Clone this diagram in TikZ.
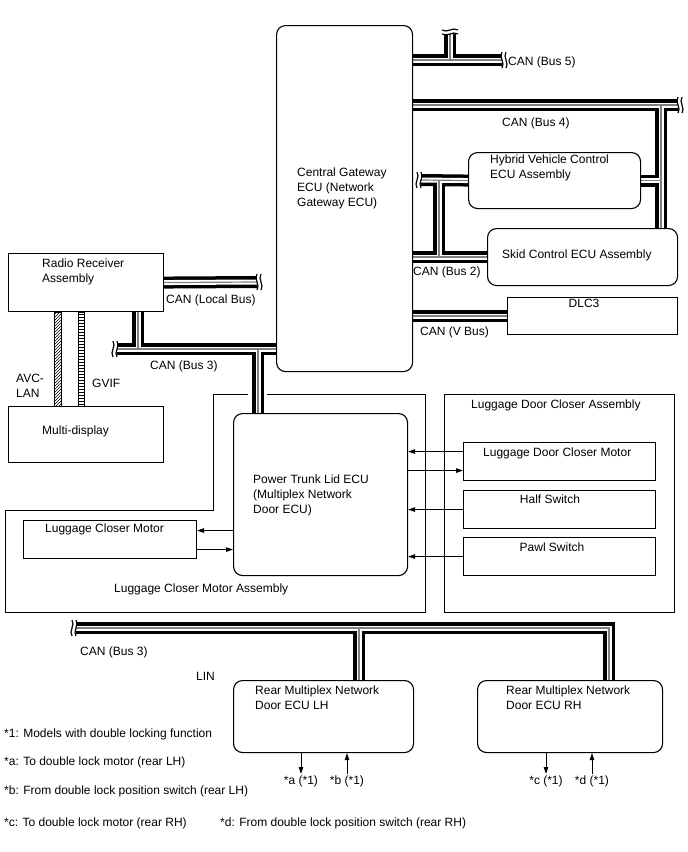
\documentclass[tikz,border=0pt]{standalone}
\usepackage{fontspec}
\setmainfont{Liberation Sans}
\usepackage{tikz}
\usetikzlibrary{calc,arrows.meta,backgrounds,patterns}
\tikzset{
  box/.style={draw,line width=1.1pt,anchor=north west,inner sep=0pt},
  rbox/.style={box,rounded corners=9pt},
  lbl/.style={anchor=north west,inner sep=0pt,align=left,font=\fontsize{12}{15}\selectfont},
  clbl/.style={lbl,anchor=north,outer sep=2pt},
  ar/.style={-{Triangle[length=7pt,width=4.5pt]},line width=0.9pt},
  busA/.style={line width=12pt,black},
  busB/.style={line width=5pt,white},
  busC/.style={line width=1.2pt,black!50},
  brk/.pic={
    \draw[line width=1.2pt] (0,-8) .. controls (-3.5,-3) and (3.5,3) .. (0,8);
    \draw[line width=1.2pt] (4,-8) .. controls (0.5,-3) and (7.5,3) .. (4,8);
  }
}

\begin{document}
\begin{tikzpicture}[x=1pt,y=-1pt]
\useasboundingbox (0,0) rectangle (688,852);
% boxes
\node[rbox,minimum width=136pt,minimum height=346pt] (gw) at (276,25) {};
\node[rbox,minimum width=172pt,minimum height=56pt] (hv) at (468,152) {};
\node[rbox,minimum width=190pt,minimum height=57pt] (sk) at (487,228) {};
\node[box,minimum width=170pt,minimum height=37pt] (dlc) at (507,297) {};
\node[box,minimum width=155pt,minimum height=58pt] (rr) at (8,253) {};
\node[box,minimum width=155pt,minimum height=56pt] (md) at (8,406) {};
\node[rbox,minimum width=174pt,minimum height=162pt] (ptl) at (233,413) {};
\node[box,minimum width=173pt,minimum height=38pt] (lcm) at (23,520) {};
\node[box,minimum width=230pt,minimum height=218pt] (ldca) at (444,394) {};
\node[box,minimum width=192pt,minimum height=38pt] (ldcm) at (463,442) {};
\node[box,minimum width=192pt,minimum height=38pt] (half) at (463,490) {};
\node[box,minimum width=192pt,minimum height=38pt] (pawl) at (463,537) {};
\node[rbox,minimum width=180pt,minimum height=72pt] (lh) at (233,680) {};
\node[rbox,minimum width=185pt,minimum height=72pt] (rh) at (477,680) {};
\draw[line width=1.1pt] (248,394.5) -- (213.5,394.5) -- (213.5,510.5) -- (5.5,510.5) -- (5.5,612.5) -- (425.5,612.5) -- (425.5,394.5) -- (267,394.5);

% texts
\node[lbl] (gwt) at (297,167.5) {Central Gateway\\ECU (Network\\Gateway ECU)};
\node[lbl] (hvt) at (490,154.5) {Hybrid Vehicle Control\\ECU Assembly};
\node[lbl] (skt) at (502,249.5) {Skid Control ECU Assembly};
\node[lbl,anchor=north] (dlct) at (584,298.5) {DLC3};
\node[lbl] (rrt) at (42,258.5) {Radio Receiver\\Assembly};
\node[lbl] (mdt) at (42,425.5) {Multi-display};
\node[lbl] (ptlt) at (253,474.5) {Power Trunk Lid ECU\\(Multiplex Network\\Door ECU)};
\node[lbl] (lcmt) at (45,523.5) {Luggage Closer Motor};
\node[lbl] (lcmat) at (114,583.5) {Luggage Closer Motor Assembly};
\node[lbl] (ldcat) at (471,399.5) {Luggage Door Closer Assembly};
\node[lbl] (ldcmt) at (483,447.5) {Luggage Door Closer Motor};
\node[lbl,anchor=north] (halft) at (550,494.5) {Half Switch};
\node[lbl,anchor=north] (pawlt) at (552,542.5) {Pawl Switch};
\node[lbl] (lht) at (255,685.5) {Rear Multiplex Network\\Door ECU LH};
\node[lbl] (rht) at (506,685.5) {Rear Multiplex Network\\Door ECU RH};
\node[lbl] (b5l) at (508,56.5) {CAN (Bus 5)};
\node[lbl] (b4l) at (502,117.5) {CAN (Bus 4)};
\node[lbl] (b2l) at (413,266.5) {CAN (Bus 2)};
\node[lbl] (vbl) at (420,326.5) {CAN (V Bus)};
\node[lbl] (lbl) at (166,294.5) {CAN (Local Bus)};
\node[lbl] (b3l) at (150,360.5) {CAN (Bus 3)};
\node[lbl] (b6l) at (80,646.5) {CAN (Bus 3)};
\node[lbl] (linl) at (196,672.5) {LIN};
\node[lbl] (avcl) at (16,373.5) {AVC-\\LAN};
\node[lbl] (gvifl) at (92,378.5) {GVIF};
\node[clbl] (ta) at (301,774) {*a (*1)};
\node[clbl] (tb) at (347,774) {*b (*1)};
\node[clbl] (tc) at (546,774) {*c (*1)};
\node[clbl] (td) at (592,774) {*d (*1)};
\node[lbl] (n1) at (4,728.5) {*1: Models with double locking function};
\node[lbl] (na) at (4,756.5) {*a: To double lock motor (rear LH)};
\node[lbl] (nb) at (4,785.5) {*b: From double lock position switch (rear LH)};
\node[lbl] (nc) at (4,817.5) {*c: To double lock motor (rear RH)};
\node[lbl] (nd) at (220,817.5) {*d: From double lock position switch (rear RH)};

% signal lines
\draw[ar] ([yshift=9pt]lcm.east -| ptl.west) -- ([yshift=9pt]lcm.east);
\draw[ar] ([yshift=-10pt]lcm.east) -- ([yshift=-10pt]lcm.east -| ptl.west);
\draw[ar] ([yshift=10pt]ldcm.west) -- ([yshift=10pt]ldcm.west -| ptl.east);
\draw[ar] ([yshift=-9pt]ldcm.west -| ptl.east) -- ([yshift=-9pt]ldcm.west);
\draw[ar] (half.west) -- (half.west -| ptl.east);
\draw[ar] (pawl.west) -- (pawl.west -| ptl.east);
\draw[ar] (lh.south -| ta.north) -- (ta.north);
\draw[ar] (tb.north) -- (tb.north |- lh.south);
\draw[ar] (rh.south -| tc.north) -- (tc.north);
\draw[ar] (td.north) -- (td.north |- rh.south);
\draw[line width=0.7pt,pattern=north east lines] ([xshift=46pt]rr.south west) rectangle ([xshift=53pt]md.north west);
\draw[line width=0.7pt,pattern=horizontal lines] ([xshift=70pt]rr.south west) rectangle ([xshift=76pt]md.north west);

% buses
\coordinate (b5e) at (502,60);
\coordinate (b5j) at (450,60);
\coordinate (b5t) at (450,34);
\coordinate (b4e) at (678,105);
\coordinate (b4j) at (661,105);
\coordinate (b2e) at (421,180);
\coordinate (b2j) at (439,180);
\coordinate (ble) at (257,282);
\coordinate (b3e) at (117,349);
\coordinate (b3a) at (138,349);
\coordinate (b3b) at (258,349);
\coordinate (b6e) at (76,628);
\coordinate (b6j) at (359,628);
\coordinate (b6c) at (609,628);
\begin{scope}[on background layer]
\foreach \s in {busA,busB,busC}{
  \draw[\s] (gw.east |- b5e) -- (b5e);
  \draw[\s] (b5j) -- (b5t);
  \draw[\s] (gw.east |- b4e) -- (b4e);
  \draw[\s] (b4j) -- (b4j |- sk.north);
  \draw[\s] (b4j |- hv.east) -- (hv.east);
  \draw[\s] (gw.east |- sk.west) -- (sk.west);
  \draw[\s] (b2e) -- (hv.west);
  \draw[\s] (b2j) -- (b2j |- sk.west);
  \draw[\s] (gw.east |- dlc.west) -- (dlc.west);
  \draw[\s] (rr.east) -- (ble);
  \draw[\s] (b3e) -- (gw.west |- b3e);
  \draw[\s] (b3a |- rr.south) -- (b3a);
  \draw[\s] (b3b) -- (b3b |- ptl.north);
  \draw[\s] (b6e) -- (b6c) -- (b6c |- rh.north);
  \draw[\s] (b6j) -- (b6j |- lh.north);
}
\end{scope}
\pic at (b5e) {brk};
\pic[rotate=90] at (b5t) {brk};
\pic at (b4e) {brk};
\pic[xscale=-1] at (b2e) {brk};
\pic at (ble) {brk};
\pic[xscale=-1] at (b3e) {brk};
\pic[xscale=-1] at (b6e) {brk};
\end{tikzpicture}
\end{document}
